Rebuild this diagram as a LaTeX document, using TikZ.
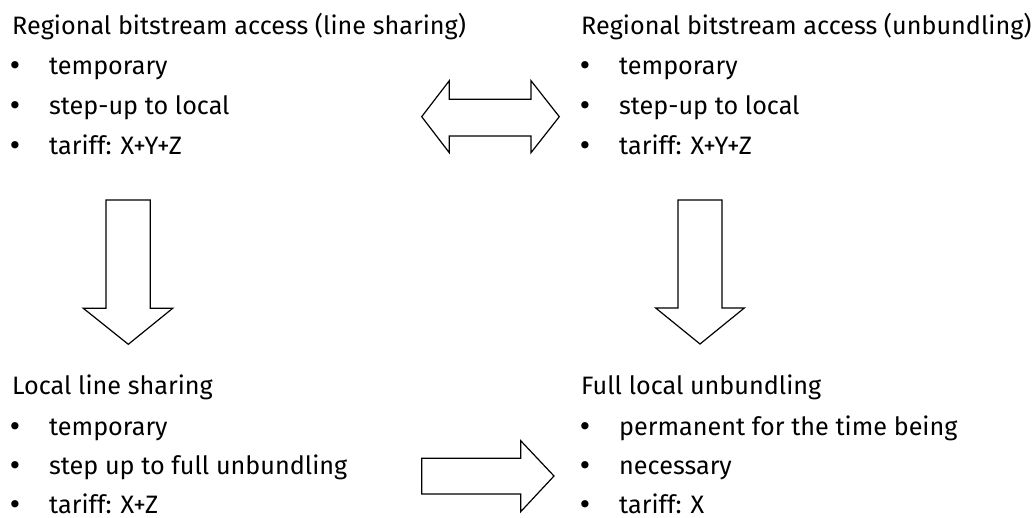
\documentclass[tikz,border=0pt]{standalone}
\usepackage{fontspec}
\setmainfont{Fira Sans}
\newfontfamily\bulfont{DejaVu Sans}
\begin{document}
\begin{tikzpicture}[x=1pt,y=-1pt,
  txt/.style={anchor=base west,inner sep=0pt,font=\fontsize{25.2}{30}\selectfont},
  bul/.style={anchor=base,inner sep=0pt,font=\bulfont\fontsize{25}{30}\selectfont},
  blockarrow/.style={draw=black,line width=1.2pt,fill=white,line join=miter}]
\useasboundingbox (0,0) rectangle (1033,518);
% top-left group
\node[txt] (tlT) at (12,35) {Regional bitstream access (line sharing)};
\node[bul] (tlb1) at (15,75) {•};
\node[txt] (tl1) at (49,75) {temporary};
\node[bul] (tlb2) at (15,115) {•};
\node[txt] (tl2) at (49,115) {step-up to local};
\node[bul] (tlb3) at (15,155) {•};
\node[txt] (tl3) at (49,155) {tariff: X+Y+Z};
% top-right group
\node[txt] (trT) at (581,35) {Regional bitstream access (unbundling)};
\node[bul] (trb1) at (585,75) {•};
\node[txt] (tr1) at (619,75) {temporary};
\node[bul] (trb2) at (585,115) {•};
\node[txt] (tr2) at (619,115) {step-up to local};
\node[bul] (trb3) at (585,155) {•};
\node[txt] (tr3) at (619,155) {tariff: X+Y+Z};
% bottom-left group
\node[txt] (blT) at (12,395) {Local line sharing};
\node[bul] (blb1) at (15,435) {•};
\node[txt] (bl1) at (49,435) {temporary};
\node[bul] (blb2) at (15,474) {•};
\node[txt] (bl2) at (49,474) {step up to full unbundling};
\node[bul] (blb3) at (15,513) {•};
\node[txt] (bl3) at (49,513) {tariff: X+Z};
% bottom-right group
\node[txt] (brT) at (581,395) {Full local unbundling};
\node[bul] (brb1) at (585,435) {•};
\node[txt] (br1) at (619,435) {permanent for the time being};
\node[bul] (brb2) at (585,474) {•};
\node[txt] (br2) at (619,474) {necessary};
\node[bul] (brb3) at (585,513) {•};
\node[txt] (br3) at (619,513) {tariff: X};
% double arrow
\draw[blockarrow] (421.7,116.7) -- (449.3,80.7) -- (449.3,99.3) -- (531,99.3) -- (531,80.7)
  -- (559.3,116.7) -- (531,152.7) -- (531,136) -- (449.3,136) -- (449.3,152.7) -- cycle;
% left down arrow
\draw[blockarrow] (106,200) -- (150.3,200) -- (150.3,308.3) -- (172.7,308.3) -- (128.3,344.3)
  -- (83.3,308.3) -- (106,308.3) -- cycle;
% right down arrow
\draw[blockarrow] (678,200) -- (722,200) -- (722,308) -- (744.3,308) -- (700,344)
  -- (655.7,308) -- (678,308) -- cycle;
% bottom right arrow
\draw[blockarrow] (421.7,458.3) -- (520.7,458.3) -- (520.7,440.7) -- (554,476) -- (520.7,511.7)
  -- (520.7,494) -- (421.7,494) -- cycle;
\end{tikzpicture}
\end{document}
